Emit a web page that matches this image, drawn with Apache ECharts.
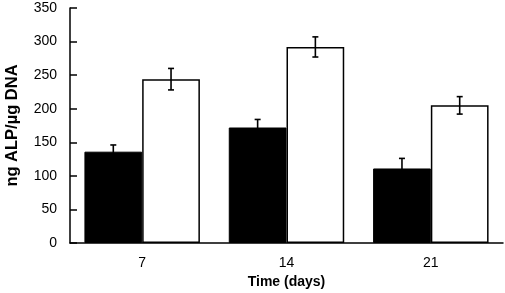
<!DOCTYPE html>
<html><head><meta charset="utf-8">
<script src="https://cdn.jsdelivr.net/npm/echarts@6/dist/echarts.min.js"></script>
<style>html,body{margin:0;padding:0;background:#fff}#c{width:505px;height:293px}</style>
</head><body><div id="c"></div>
<script>
var categories = ['7', '14', '21'];
var blackValues = [136, 172, 111];
var blackErrors = [10, 12, 15];
var whiteValues = [244, 292, 205];
var whiteErrors = [16, 15, 13];
var yTicks = [0, 50, 100, 150, 200, 250, 300, 350];

var chart = echarts.init(document.getElementById('c'), null, {renderer: 'canvas'});
function errSeries(vals, errs, side) {
  return {
    type: 'custom', z: 10,
    data: vals.map(function (v, i) { return [i, v, errs[i]]; }),
    encode: {x: 0, y: 1},
    renderItem: function (params, api) {
      var i = api.value(0), v = api.value(1), e = api.value(2);
      var cw = api.size([1, 0])[0];
      var c = api.coord([i, v]);
      var x = c[0] + side * cw * 0.2;
      var top = api.coord([i, v + e])[1];
      var bot = api.coord([i, v - e])[1];
      var cap = 3;
      var st = {stroke: '#000', lineWidth: 1.6};
      return {type: 'group', children: [
        {type: 'line', shape: {x1: x, y1: top, x2: x, y2: bot}, style: st},
        {type: 'line', shape: {x1: x - cap, y1: top, x2: x + cap, y2: top}, style: st},
        {type: 'line', shape: {x1: x - cap, y1: bot, x2: x + cap, y2: bot}, style: st}
      ]};
    }
  };
}
chart.setOption({
  animation: false,
  textStyle: {fontFamily: 'Liberation Sans, Arial, sans-serif'},
  grid: {left: 70, right: 2, top: 8, bottom: 50, containLabel: false, outerBoundsMode: 'none'},
  xAxis: {
    type: 'category', data: categories,
    axisLine: {lineStyle: {color: '#000', width: 1.5}},
    axisTick: {inside: true, length: 7, lineStyle: {color: '#000', width: 1.5}},
    axisLabel: {color: '#000', fontSize: 14, margin: 13},
    name: 'Time (days)', nameLocation: 'middle', nameGap: 32,
    nameTextStyle: {color: '#000', fontSize: 14, fontWeight: 'bold'}
  },
  yAxis: {
    type: 'value', min: yTicks[0], max: yTicks[yTicks.length - 1], interval: 50,
    splitLine: {show: false},
    axisLine: {show: true, lineStyle: {color: '#000', width: 1.5}},
    axisTick: {show: true, inside: true, length: 7, lineStyle: {color: '#000', width: 1.5}},
    axisLabel: {color: '#000', fontSize: 14, margin: 13},
    name: 'ng ALP/µg DNA', nameLocation: 'middle', nameGap: 49,
    nameTextStyle: {color: '#000', fontSize: 16.5, fontWeight: 'bold'}
  },
  series: [
    {type: 'bar', data: blackValues, barWidth: '40%', barGap: '0%',
     itemStyle: {color: '#000', borderColor: '#000', borderWidth: 1}},
    {type: 'bar', data: whiteValues, barWidth: '40%', barGap: '0%',
     itemStyle: {color: '#fff', borderColor: '#000', borderWidth: 1.5}},
    errSeries(blackValues, blackErrors, -1),
    errSeries(whiteValues, whiteErrors, 1)
  ]
});
</script></body></html>
